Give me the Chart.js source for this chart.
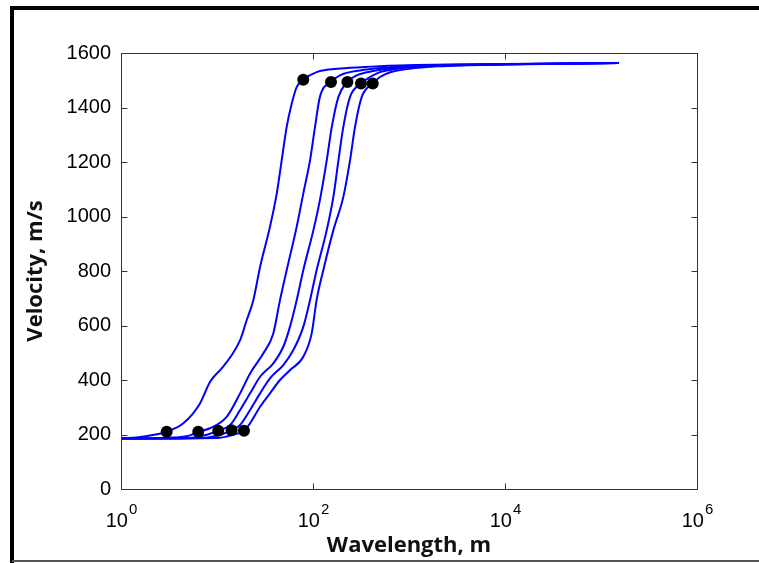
<!DOCTYPE html>
<html>
<head>
<meta charset="utf-8">
<script src="https://cdn.jsdelivr.net/npm/chart.js@4.4.1/dist/chart.umd.min.js"></script>
<style>
  html, body { margin: 0; padding: 0; background: #fff; }
  #chart { display: block; }
</style>
</head>
<body>
<canvas id="chart" width="759" height="563"></canvas>
<script>
// dispersion curves, wavelength (m) vs phase velocity (m/s)
const c1Wavelength = [1, 1.5, 2, 2.99, 4.46, 6.65, 8.45, 11.2, 14.2, 17.4, 20.4, 23.9, 28.1, 35.6, 41.9, 47.2, 53.2, 60, 67.6, 79.2, 109, 191, 400, 1000, 10000, 154000];
const c1Velocity   = [186, 190, 196, 210, 241, 314, 393, 443, 491, 546, 620, 693, 815, 962, 1084, 1206, 1329, 1414, 1475, 1502, 1530, 1543, 1550, 1555, 1560, 1563];

const c2Wavelength = [1, 3, 5, 6.38, 8.45, 12.6, 17.4, 22.1, 30.4, 38.6, 45.3, 53.2, 67.6, 79.2, 93.1, 105, 118, 154, 191, 309, 600, 1000, 10000, 154000];
const c2Velocity   = [185, 188, 195, 210, 223, 265, 351, 424, 498, 571, 693, 803, 962, 1084, 1206, 1329, 1439, 1494, 1518, 1536, 1547, 1553, 1559, 1563];

const c3Wavelength = [1, 5, 8, 10.3, 13.7, 17.4, 22.1, 28.1, 38.6, 49, 57.5, 67.6, 79.2, 101, 118, 139, 157, 184, 228, 285, 425, 700, 1200, 10000, 154000];
const c3Velocity   = [185, 187, 200, 214, 235, 290, 351, 412, 461, 522, 595, 693, 803, 950, 1060, 1206, 1329, 1439, 1494, 1518, 1534, 1545, 1552, 1559, 1563];

const c4Wavelength = [1, 7, 11, 14.2, 17.4, 22.1, 28.1, 35.6, 49, 62.4, 79.2, 93.1, 109, 139, 163, 184, 207, 243, 316, 392, 499, 800, 1500, 10000, 154000];
const c4Velocity   = [185, 187, 200, 216, 235, 290, 351, 406, 455, 510, 595, 693, 803, 950, 1072, 1206, 1329, 1439, 1488, 1512, 1530, 1543, 1551, 1559, 1563];

const c5Wavelength = [1, 10, 15, 19.1, 22.1, 28.1, 35.6, 45.3, 57.5, 79.2, 96.9, 109, 128, 163, 207, 243, 274, 322, 419, 499, 650, 1000, 2000, 10000, 154000];
const c5Velocity   = [185, 187, 200, 214, 241, 302, 351, 400, 436, 485, 571, 693, 803, 950, 1072, 1206, 1329, 1439, 1488, 1512, 1530, 1542, 1551, 1558, 1563];

// picked points at the low and high ends of each curve
const dotWavelength = [2.99, 6.38, 10.3, 14.2, 19.1, 79.2, 154, 228, 316, 419];
const dotVelocity   = [210, 210, 214, 216, 214, 1502, 1494, 1494, 1488, 1488];

const xTickValues = [1, 100, 10000, 1000000];
const xTickExponents = ['0', '2', '4', '6'];
const yTickValues = [0, 200, 400, 600, 800, 1000, 1200, 1400, 1600];

function pairs(xs, ys) {
  return xs.map((x, i) => ({ x: x, y: ys[i] }));
}

const curveStyle = {
  borderColor: '#0000ff',
  borderWidth: 2,
  pointRadius: 0,
  fill: false,
  cubicInterpolationMode: 'monotone',
  order: 1
};

const curves = [
  [c1Wavelength, c1Velocity],
  [c2Wavelength, c2Velocity],
  [c3Wavelength, c3Velocity],
  [c4Wavelength, c4Velocity],
  [c5Wavelength, c5Velocity]
].map(function (c, i) {
  return Object.assign({ label: 'curve ' + (i + 1), data: pairs(c[0], c[1]) }, curveStyle);
});

const tickFont = '20px "Liberation Sans", Arial, sans-serif';
const expFont = '15px "Liberation Sans", Arial, sans-serif';
const titleFont = { family: '"Open Sans", sans-serif', weight: 'bold', size: 22 };

// frame, axes box, inward tick marks and the 10^n labels
const axesBox = {
  id: 'axesBox',
  afterDraw(chart) {
    const ctx = chart.ctx;
    const a = chart.chartArea;
    const xs = chart.scales.x;
    const ys = chart.scales.y;
    ctx.save();

    // outer frame
    ctx.strokeStyle = '#000';
    ctx.lineWidth = 4;
    ctx.beginPath();
    ctx.moveTo(12, 563);
    ctx.lineTo(12, 8);
    ctx.lineTo(759, 8);
    ctx.stroke();
    ctx.strokeStyle = '#555';
    ctx.lineWidth = 2;
    ctx.beginPath();
    ctx.moveTo(12, 561);
    ctx.lineTo(759, 561);
    ctx.stroke();

    // box
    const L = Math.round(a.left) + 0.5, R = Math.round(a.right) + 0.5;
    const T = Math.round(a.top) + 0.5, B = Math.round(a.bottom) + 0.5;
    ctx.strokeStyle = '#333';
    ctx.lineWidth = 1;
    ctx.strokeRect(L, T, R - L, B - T);

    // tick marks pointing in
    ctx.beginPath();
    yTickValues.forEach(function (v) {
      const py = Math.round(ys.getPixelForValue(v)) + 0.5;
      ctx.moveTo(L, py); ctx.lineTo(L + 6, py);
      ctx.moveTo(R, py); ctx.lineTo(R - 6, py);
    });
    xTickValues.forEach(function (v) {
      const px = Math.round(xs.getPixelForValue(v)) + 0.5;
      ctx.moveTo(px, B); ctx.lineTo(px, B - 6);
      ctx.moveTo(px, T); ctx.lineTo(px, T + 6);
    });
    ctx.stroke();

    // x labels as 10 with a raised exponent
    ctx.fillStyle = '#000';
    ctx.textBaseline = 'alphabetic';
    ctx.textAlign = 'left';
    xTickValues.forEach(function (v, i) {
      const px = xs.getPixelForValue(v);
      ctx.font = tickFont;
      const w1 = ctx.measureText('10').width;
      ctx.font = expFont;
      const w2 = ctx.measureText(xTickExponents[i]).width;
      const x0 = px - (w1 + w2) / 2;
      ctx.font = tickFont;
      ctx.fillText('10', x0, 527);
      ctx.font = expFont;
      ctx.fillText(xTickExponents[i], x0 + w1 + 1, 514);
    });
    ctx.restore();
  }
};

new Chart(document.getElementById('chart'), {
  type: 'line',
  data: {
    datasets: [{
      label: 'picks',
      data: pairs(dotWavelength, dotVelocity),
      showLine: false,
      pointRadius: 6,
      pointHoverRadius: 6,
      pointBackgroundColor: '#000',
      pointBorderColor: '#000',
      pointBorderWidth: 0,
      order: 0
    }].concat(curves)
  },
  options: {
    responsive: false,
    animation: false,
    events: [],
    layout: { padding: { left: 0, top: 53, right: 62, bottom: 0 } },
    plugins: {
      legend: { display: false },
      tooltip: { enabled: false }
    },
    scales: {
      x: {
        type: 'logarithmic',
        min: 1,
        max: 1000000,
        afterBuildTicks(scale) {
          scale.ticks = xTickValues.map(v => ({ value: v }));
        },
        afterFit(scale) { scale.height = 74; },
        grid: { display: false, drawTicks: false },
        border: { display: false },
        ticks: { display: false },
        title: {
          display: true,
          text: 'Wavelength, m',
          color: '#111',
          font: titleFont,
          padding: { top: 0, bottom: 4 }
        }
      },
      y: {
        min: 0,
        max: 1600,
        afterBuildTicks(scale) {
          scale.ticks = yTickValues.map(v => ({ value: v }));
        },
        afterFit(scale) { scale.width = 121; },
        grid: { display: false, drawTicks: false },
        border: { display: false },
        ticks: {
          color: '#000',
          padding: 10,
          font: { family: '"Liberation Sans", Arial, sans-serif', size: 20 },
          callback: function (value) { return String(value); }
        },
        title: {
          display: true,
          text: 'Velocity, m/s',
          color: '#111',
          font: titleFont,
          padding: { top: 23, bottom: 0 }
        }
      }
    }
  },
  plugins: [axesBox]
});
</script>
</body>
</html>
